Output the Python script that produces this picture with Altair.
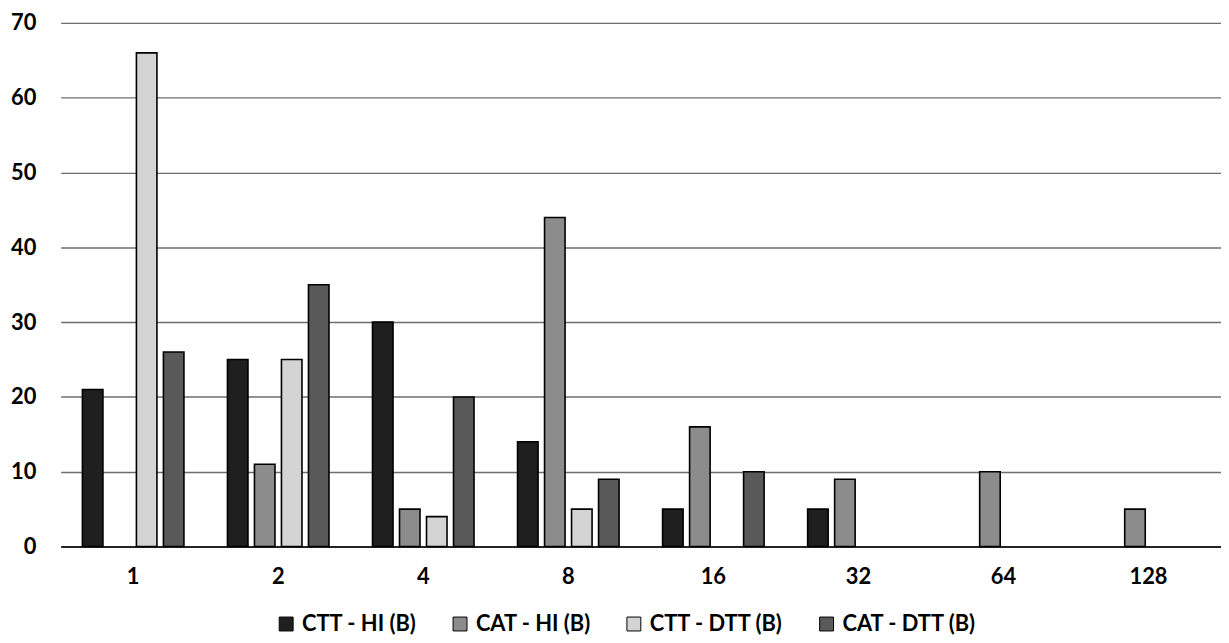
import altair as alt
import pandas as pd

categories = ["1", "2", "4", "8", "16", "32", "64", "128"]
series = ["CTT - HI (B)", "CAT - HI (B)", "CTT - DTT (B)", "CAT - DTT (B)"]
ctt_hi = [21, 25, 30, 14, 5, 5, 0, 0]
cat_hi = [0, 11, 5, 44, 16, 9, 10, 5]
ctt_dtt = [66, 25, 4, 5, 0, 0, 0, 0]
cat_dtt = [26, 35, 20, 9, 10, 0, 0, 0]
colors = ["#1f1f1f", "#8c8c8c", "#d4d4d4", "#595959"]
y_ticks = [0, 10, 20, 30, 40, 50, 60, 70]

rows = []
for s, vals in zip(series, [ctt_hi, cat_hi, ctt_dtt, cat_dtt]):
    for c, v in zip(categories, vals):
        if v > 0:
            rows.append({"cat": c, "series": s, "value": v})
df = pd.DataFrame(rows)

FONT = "Lato"
FS = 22

chart = alt.Chart(df).mark_bar(stroke="black", strokeWidth=1.6).encode(
    x=alt.X("cat:N", sort=categories,
            scale=alt.Scale(domain=categories, paddingInner=0.3, paddingOuter=0.15),
            axis=alt.Axis(title=None, labelAngle=0, labelPadding=20, ticks=False,
                          domainColor="black", domainWidth=1.5, labelFontSize=FS,
                          labelFont=FONT, labelFontWeight="bold", labelColor="black")),
    xOffset=alt.XOffset("series:N", scale=alt.Scale(domain=series, paddingInner=0.24)),
    y=alt.Y("value:Q", scale=alt.Scale(domain=[0, 70], nice=False),
            axis=alt.Axis(title=None, values=y_ticks, domain=False, ticks=False,
                          labelPadding=25, labelFontSize=FS, labelFont=FONT,
                          labelFontWeight="bold", labelColor="black",
                          gridColor="#6e6e6e", gridWidth=1.3)),
    fill=alt.Fill("series:N", scale=alt.Scale(domain=series, range=colors),
                  legend=alt.Legend(title=None, orient="none", direction="horizontal",
                                    legendX=216, legendY=594, symbolType="square",
                                    symbolSize=196, symbolStrokeColor="black",
                                    symbolStrokeWidth=1, symbolOpacity=1,
                                    labelFontSize=FS, labelFont=FONT,
                                    labelFontWeight="bold", labelColor="black",
                                    columnPadding=32, labelOffset=5)),
).properties(
    width=1168, height=527,
    autosize=alt.AutoSizeParams(type="none"),
    padding={"left": 53, "top": 13, "right": 0, "bottom": 87},
).configure_view(stroke=None)

chart.save("out.html", embed_options={"renderer": "svg", "actions": False})
